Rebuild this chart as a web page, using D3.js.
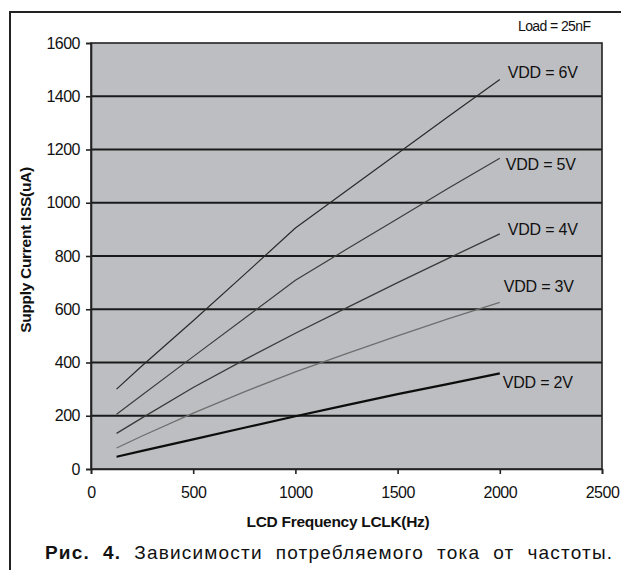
<!DOCTYPE html>
<html>
<head>
<meta charset="utf-8">
<script src="https://cdn.jsdelivr.net/npm/d3@7"></script>
<style>
  html, body { margin: 0; padding: 0; background: #fff; }
  svg { display: block; }
  text { font-family: "Liberation Sans", Arial, sans-serif; fill: #111; }
</style>
</head>
<body>
<svg id="chart" width="621" height="570"></svg>
<script>
// LCD clock frequency, Hz
const freq = [125, 250, 500, 750, 1000, 1250, 1500, 1750, 2000];

// Supply current ISS (uA) for each supply voltage
const vdd6 = [300, 388, 557, 730, 905, 1045, 1185, 1325, 1463];
const vdd5 = [206, 278, 422, 565, 709, 825, 940, 1055, 1167];
const vdd4 = [134, 192, 306, 410, 510, 605, 700, 792, 883];
const vdd3 = [79, 124, 210, 290, 365, 433, 500, 565, 626];
const vdd2 = [46, 68, 111, 155, 198, 240, 281, 320, 359];

const seriesNames = ["VDD = 6V", "VDD = 5V", "VDD = 4V", "VDD = 3V", "VDD = 2V"];
const seriesValues = [vdd6, vdd5, vdd4, vdd3, vdd2];

const xTicks = [0, 500, 1000, 1500, 2000, 2500];
const yTicks = [0, 200, 400, 600, 800, 1000, 1200, 1400, 1600];

const svg = d3.select("#chart");

const plot = { left: 91, right: 602, top: 43, bottom: 469 };
const x = d3.scaleLinear().domain([0, 2500]).range([plot.left, plot.right]);
const y = d3.scaleLinear().domain([0, 1600]).range([plot.bottom, plot.top]);

// outer figure frame (continues past the right and bottom edges)
svg.append("path")
  .attr("d", "M10,575 L10,12 L625,12")
  .attr("fill", "none").attr("stroke", "#222").attr("stroke-width", 2);

// plot background
svg.append("rect")
  .attr("x", plot.left).attr("y", plot.top)
  .attr("width", plot.right - plot.left).attr("height", plot.bottom - plot.top)
  .attr("fill", "#bdbec2");

// horizontal gridlines
svg.append("g").selectAll("line")
  .data(yTicks.filter(d => d > 0 && d < 1600))
  .join("line")
  .attr("x1", plot.left).attr("x2", plot.right)
  .attr("y1", d => y(d)).attr("y2", d => y(d))
  .attr("stroke", "#1a1a1a").attr("stroke-width", 2);

// plot border
svg.append("rect")
  .attr("x", plot.left).attr("y", plot.top)
  .attr("width", plot.right - plot.left).attr("height", plot.bottom - plot.top)
  .attr("fill", "none").attr("stroke", "#222").attr("stroke-width", 1.6);

// axes
const yAxis = svg.append("g")
  .attr("transform", `translate(${plot.left},0)`)
  .call(d3.axisLeft(y).tickValues(yTicks).tickSize(5).tickPadding(6).tickFormat(d3.format("d")));
const xAxis = svg.append("g")
  .attr("transform", `translate(0,${plot.bottom})`)
  .call(d3.axisBottom(x).tickValues(xTicks).tickSize(5).tickPadding(13).tickFormat(d3.format("d")));

[yAxis, xAxis].forEach(a => {
  a.select(".domain").attr("stroke", "#222").attr("stroke-width", 1.6);
  a.selectAll(".tick line").attr("stroke", "#222").attr("stroke-width", 1.6);
  a.selectAll(".tick text")
    .attr("font-family", "'Liberation Sans', Arial, sans-serif")
    .attr("font-size", 16).attr("fill", "#111")
    .attr("letter-spacing", -0.5);
});

// series lines
const styles = [
  { color: "#2a2a2a", width: 1.2 },
  { color: "#3c3c3c", width: 1.2 },
  { color: "#3a3a3a", width: 1.3 },
  { color: "#6e6e6e", width: 1.3 },
  { color: "#0d0d0d", width: 2.2 }
];
const line = d3.line().x(d => x(d[0])).y(d => y(d[1]));

seriesValues.forEach((vals, i) => {
  const pts = freq.map((f, j) => [f, vals[j]]);
  svg.append("path")
    .datum(pts)
    .attr("d", line)
    .attr("fill", "none")
    .attr("stroke", styles[i].color)
    .attr("stroke-width", styles[i].width)
    .attr("stroke-linejoin", "round");
});

// series labels at the line ends
const labelPos = [
  { dx: 8, dy: -6 },
  { dx: 6, dy: 7 },
  { dx: 8, dy: -3 },
  { dx: 4, dy: -15 },
  { dx: 3, dy: 10 }
];
seriesValues.forEach((vals, i) => {
  const last = vals[vals.length - 1];
  svg.append("text")
    .attr("x", x(freq[freq.length - 1]) + labelPos[i].dx)
    .attr("y", y(last) + labelPos[i].dy)
    .attr("dominant-baseline", "middle")
    .attr("font-size", 16)
    .attr("letter-spacing", -0.2)
    .text(seriesNames[i]);
});

// load annotation
svg.append("text")
  .attr("x", 518).attr("y", 27)
  .attr("dominant-baseline", "middle")
  .attr("font-size", 14).attr("letter-spacing", -0.6)
  .text("Load = 25nF");

// axis titles
svg.append("text")
  .attr("x", 338).attr("y", 523)
  .attr("text-anchor", "middle").attr("dominant-baseline", "middle")
  .attr("font-size", 15.5).attr("font-weight", "bold").attr("letter-spacing", -0.3)
  .attr("fill", "#222")
  .text("LCD Frequency LCLK(Hz)");

svg.append("text")
  .attr("transform", "translate(27,250) rotate(-90)")
  .attr("text-anchor", "middle").attr("dominant-baseline", "middle")
  .attr("font-size", 15.5).attr("font-weight", "bold").attr("letter-spacing", -0.3)
  .attr("fill", "#222")
  .text("Supply Current ISS(uA)");

// caption, justified across the figure width
const cap = svg.append("text")
  .attr("x", 45).attr("y", 554)
  .attr("dominant-baseline", "middle")
  .attr("font-size", 19)
  .attr("letter-spacing", 1.2)
  .attr("word-spacing", 6.5);
cap.append("tspan").attr("font-weight", "bold").text("Рис. 4.");
cap.append("tspan").text(" Зависимости потребляемого тока от частоты.");
</script>
</body>
</html>
